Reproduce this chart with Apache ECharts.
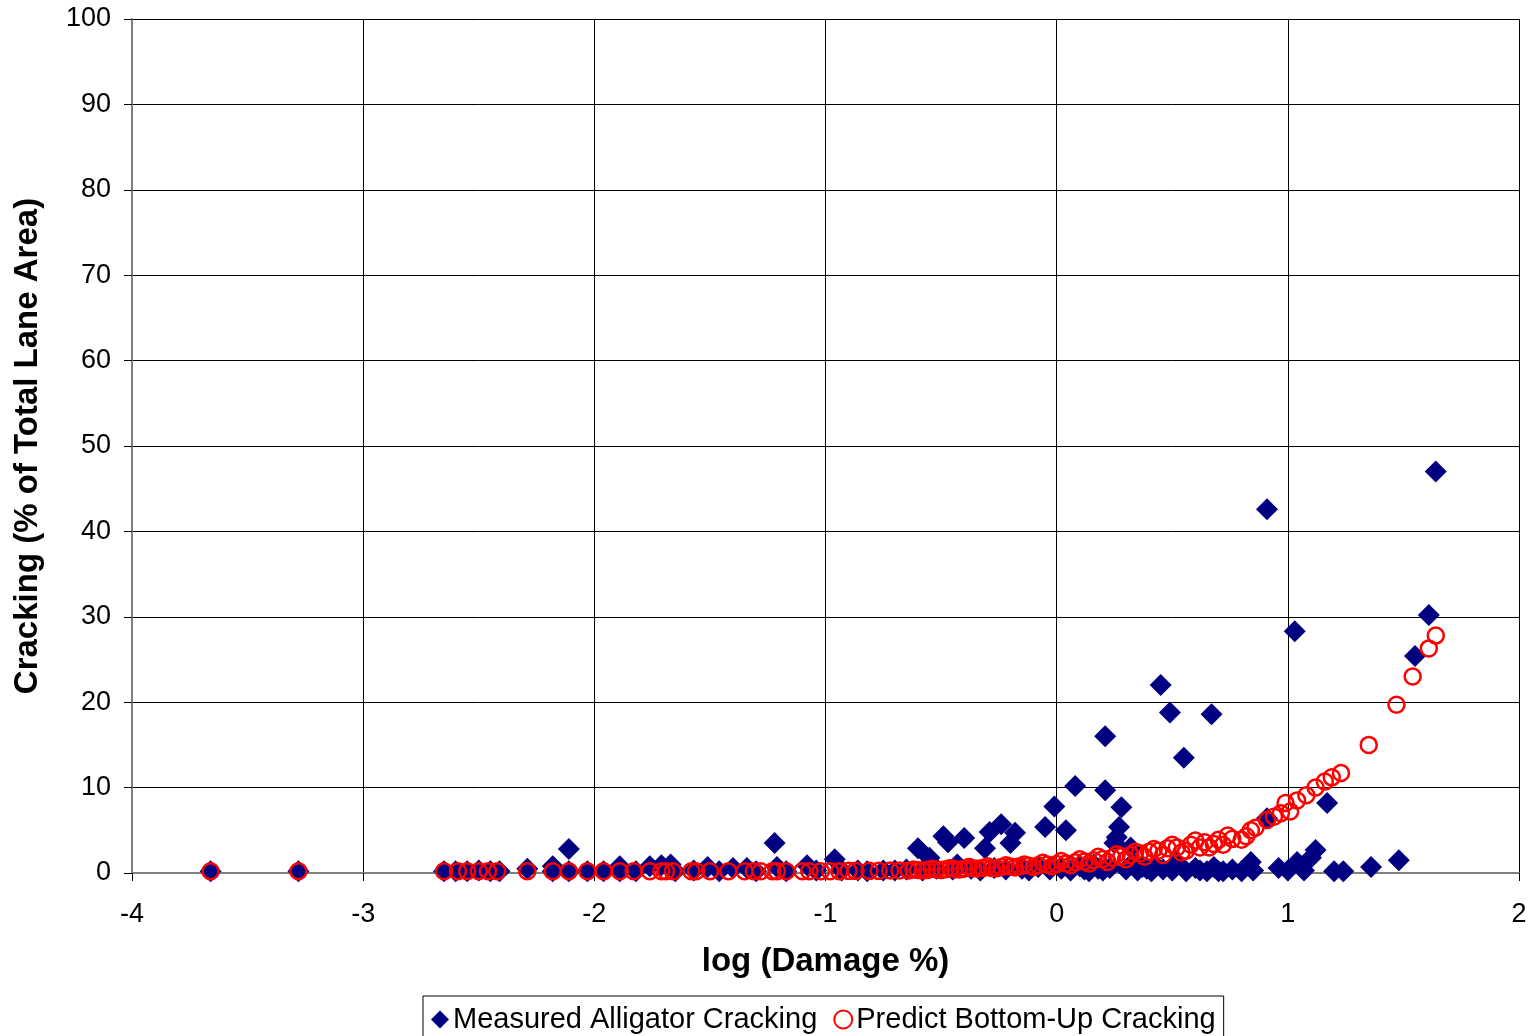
<!DOCTYPE html>
<html>
<head>
<meta charset="utf-8">
<script src="https://cdn.jsdelivr.net/npm/echarts@6/dist/echarts.min.js"></script>
<style>
html,body{margin:0;padding:0;background:#fff;}
#chart{width:1530px;height:1036px;}
</style>
</head>
<body>
<div id="chart"></div>
<script>
const xTicks = [-4, -3, -2, -1, 0, 1, 2];
const yTicks = [0, 10, 20, 30, 40, 50, 60, 70, 80, 90, 100];

const measuredX = [-3.66,-3.28,-2.65,-2.60,-2.55,-2.50,-2.45,-2.41,-2.29,-2.18,-2.18,-2.11,-2.11,-2.03,-1.96,-1.89,-1.89,-1.82,-1.76,-1.71,-1.67,-1.65,-1.57,-1.51,-1.46,-1.40,-1.34,-1.30,-1.22,-1.21,-1.17,-1.08,-1.04,-0.96,-0.93,-0.86,-0.82,-0.75,-0.70,-0.65,-0.60,-0.58,-0.55,-0.52,-0.49,-0.47,-0.45,-0.43,-0.40,-0.37,-0.33,-0.31,-0.29,-0.27,-0.24,-0.22,-0.20,-0.18,-0.15,-0.12,-0.08,-0.05,-0.03,-0.01,0.02,0.04,0.06,0.08,0.10,0.12,0.14,0.16,0.18,0.20,0.21,0.21,0.23,0.25,0.26,0.27,0.28,0.30,0.32,0.33,0.35,0.37,0.39,0.41,0.43,0.45,0.46,0.49,0.50,0.52,0.55,0.56,0.60,0.62,0.65,0.67,0.68,0.70,0.72,0.76,0.80,0.84,0.85,0.91,0.91,0.96,1.00,1.03,1.04,1.07,1.10,1.12,1.17,1.20,1.24,1.36,1.48,1.55,1.61,1.64];
const measuredY = [0.2,0.2,0.2,0.2,0.2,0.3,0.2,0.2,0.5,0.8,0.2,2.8,0.2,0.2,0.2,0.8,0.2,0.2,0.8,0.9,1.0,0.2,0.3,0.7,0.2,0.6,0.6,0.2,3.5,0.7,0.2,0.9,0.3,1.6,0.3,0.3,0.2,0.3,0.3,0.4,2.9,0.3,1.8,0.5,4.3,3.6,0.4,1.0,4.1,0.5,0.3,2.9,4.8,0.6,5.7,0.4,3.5,4.7,0.5,0.3,0.7,5.4,0.4,7.8,0.5,5.0,0.3,10.2,0.8,0.4,0.2,1.0,0.5,0.3,16.0,9.7,0.6,3.5,4.2,5.4,7.7,0.4,3.0,1.2,0.3,0.7,0.5,0.2,0.8,22.0,0.4,18.8,0.3,1.2,13.5,0.2,0.6,0.3,0.2,18.6,0.7,0.2,0.2,0.4,0.2,1.3,0.3,42.6,6.4,0.6,0.3,28.3,1.3,0.3,1.8,2.7,8.2,0.2,0.2,0.7,1.5,25.4,30.2,47.0];

const predictedX = [-3.66,-3.28,-2.65,-2.59,-2.55,-2.50,-2.46,-2.42,-2.29,-2.18,-2.11,-2.03,-1.96,-1.89,-1.83,-1.76,-1.71,-1.69,-1.66,-1.58,-1.56,-1.50,-1.42,-1.35,-1.31,-1.28,-1.23,-1.21,-1.17,-1.10,-1.07,-1.02,-0.98,-0.94,-0.90,-0.87,-0.81,-0.77,-0.72,-0.68,-0.64,-0.60,-0.56,-0.52,-0.48,-0.44,-0.40,-0.36,-0.32,-0.28,-0.24,-0.20,-0.16,-0.12,-0.08,-0.04,0.00,0.04,0.08,0.12,0.16,0.20,0.24,0.28,0.32,0.36,0.40,0.44,0.48,0.52,0.56,0.58,0.62,0.64,0.68,0.70,0.72,0.74,0.80,0.82,0.84,0.91,0.94,0.97,0.99,1.01,1.04,1.08,1.12,1.16,1.19,1.23,1.35,1.47,1.54,1.61,1.64,
  -0.62,-0.58,-0.54,-0.50,-0.46,-0.42,-0.38,-0.34,-0.30,-0.26,-0.22,-0.18,-0.14,-0.10,-0.06,-0.02,0.02,0.06,0.10,0.14,0.18,0.22,0.26,0.30,0.34,0.38,0.42,0.46,0.50,0.54,0.60,0.66,0.76,0.86];
const predictedY = [0.2,0.2,0.2,0.2,0.2,0.2,0.2,0.2,0.2,0.2,0.2,0.2,0.2,0.2,0.2,0.2,0.2,0.2,0.2,0.2,0.2,0.2,0.2,0.2,0.2,0.2,0.2,0.2,0.2,0.2,0.2,0.2,0.2,0.2,0.25,0.25,0.25,0.25,0.3,0.3,0.3,0.35,0.35,0.4,0.45,0.45,0.5,0.55,0.6,0.6,0.7,0.75,0.8,0.85,0.9,1.0,1.05,1.1,1.25,1.35,1.5,1.65,1.8,1.95,2.1,2.3,2.5,2.6,2.9,3.0,2.6,3.3,3.0,3.6,3.4,3.9,3.3,4.4,3.9,4.3,5.0,6.2,6.6,7.0,8.2,7.2,8.5,9.1,10.0,10.7,11.2,11.7,15.0,19.7,23.0,26.3,27.8,
  0.4,0.3,0.5,0.35,0.6,0.4,0.7,0.5,0.8,0.55,0.9,0.65,1.0,0.7,1.2,0.8,1.4,0.9,1.6,1.1,1.9,1.3,2.2,1.6,2.5,1.9,2.8,2.1,3.3,2.4,3.8,3.0,4.0,5.3];

const FONT = '"Liberation Sans", Arial, sans-serif';
const measuredData = measuredX.map((x, i) => [x, measuredY[i]]);
const predictedData = predictedX.map((x, i) => [x, predictedY[i]]);

const chart = echarts.init(document.getElementById('chart'), null, {renderer: 'canvas'});
chart.setOption({
  animation: false,
  backgroundColor: '#fff',
  textStyle: {fontFamily: FONT},
  grid: {left: 132, top: 19, width: 1387, height: 854, containLabel: false, outerBoundsMode: 'none', show: false},
  xAxis: {
    type: 'value', min: xTicks[0], max: xTicks[xTicks.length - 1], interval: 1,
    name: 'log (Damage %)', nameLocation: 'middle', nameGap: 72,
    nameTextStyle: {fontFamily: FONT, fontSize: 33, fontWeight: 'bold', color: '#000'},
    axisLine: {show: true, onZero: false, lineStyle: {color: '#808080', width: 2}},
    axisTick: {show: true, inside: false, length: 8, lineStyle: {color: '#000', width: 1}},
    axisLabel: {fontFamily: FONT, fontSize: 27, color: '#000', margin: 28},
    splitLine: {show: true, lineStyle: {color: '#000', width: 1}}
  },
  yAxis: {
    type: 'value', min: yTicks[0], max: yTicks[yTicks.length - 1], interval: 10,
    name: 'Cracking (% of Total Lane Area)', nameLocation: 'middle', nameGap: 88,
    nameTextStyle: {fontFamily: FONT, fontSize: 33, fontWeight: 'bold', color: '#000'},
    axisLine: {show: true, onZero: false, lineStyle: {color: '#808080', width: 2}},
    axisTick: {show: true, inside: false, length: 8, lineStyle: {color: '#000', width: 1}},
    axisLabel: {fontFamily: FONT, fontSize: 27, color: '#000', margin: 21},
    splitLine: {show: true, lineStyle: {color: '#000', width: 1}}
  },
  legend: {
    left: 423, top: 996,
    borderColor: '#000', borderWidth: 1,
    padding: [9, 8, 12, 8],
    itemGap: 16, itemWidth: 18, itemHeight: 18,
    textStyle: {fontFamily: FONT, fontSize: 29, color: '#000', padding: [0, 0, 0, -1]},
    data: ['Measured Alligator Cracking', 'Predict Bottom-Up Cracking']
  },
  series: [
    {
      name: 'Measured Alligator Cracking', type: 'scatter', symbol: 'diamond', symbolSize: 22,
      itemStyle: {color: '#000080', opacity: 1},
      data: measuredData, z: 2
    },
    {
      name: 'Predict Bottom-Up Cracking', type: 'scatter', symbol: 'circle', symbolSize: 16,
      itemStyle: {color: 'rgba(255,255,255,0)', borderColor: '#ff0000', borderWidth: 2.5, opacity: 1},
      data: predictedData, z: 3
    }
  ]
});
</script>
</body>
</html>
